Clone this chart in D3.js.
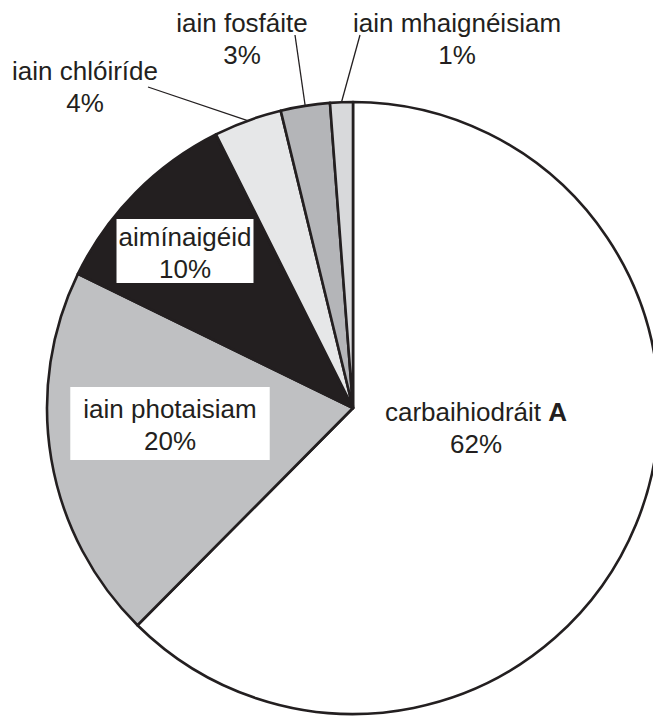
<!DOCTYPE html>
<html>
<head>
<meta charset="utf-8">
<script src="https://cdn.jsdelivr.net/npm/d3@7"></script>
<style>
	body { margin: 0; background: #fff; }
	text { font-family: "Liberation Sans", Arial, sans-serif; fill: #231f20; }
</style>
</head>
<body>
<svg id="chart"></svg>
<script>
// slices, clockwise from 12 o'clock
const names = ["carbaihiodráit", "iain photaisiam", "aimínaigéid", "iain chlóiríde", "iain fosfáite", "iain mhaignéisiam"];
const values = [62.5, 19.8, 10.4, 3.6, 2.6, 1.2];
const pctLabels = ["62%", "20%", "10%", "4%", "3%", "1%"];
const fills = ["#ffffff", "#bfc0c2", "#231f20", "#e6e7e8", "#b4b5b8", "#d8d9db"];

// label layout: inside (boxed or plain) or outside with a leader line
const labelPos = [
	{ x: 476, y: 421, kind: "plain", bold: "A" },
	{ x: 170, y: 418, kind: "box", pad: [13, 7, 4] },
	{ x: 185, y: 246, kind: "box", pad: [2, 3, -1] },
	{ x: 85, y: 80, kind: "out", lx: 148, ly: 87 },
	{ x: 242, y: 32, kind: "out", lx: 295, ly: 35 },
	{ x: 457, y: 32, kind: "out", lx: 360, ly: 35 }
];

const width = 653;
const height = 716;
const cx = 353, cy = 408, radius = 306;
const lineGap = 32;

const svg = d3.select("#chart")
	.attr("width", width)
	.attr("height", height);

const pie = d3.pie().sort(null).value((d) => d)(values);
const arc = d3.arc().innerRadius(0).outerRadius(radius);

const g = svg.append("g").attr("transform", `translate(${cx},${cy})`);

g.selectAll("path")
	.data(pie)
	.join("path")
	.attr("d", arc)
	.attr("fill", (d, i) => fills[i])
	.attr("stroke", "#231f20")
	.attr("stroke-width", 2.6)
	.attr("stroke-linejoin", "round");

// leader lines for the small slices
pie.forEach((d, i) => {
	const p = labelPos[i];
	if (p.kind !== "out") return;
	const a = (d.startAngle + d.endAngle) / 2;
	svg.append("line")
		.attr("x1", p.lx)
		.attr("y1", p.ly)
		.attr("x2", cx + radius * Math.sin(a))
		.attr("y2", cy - radius * Math.cos(a))
		.attr("stroke", "#231f20")
		.attr("stroke-width", 1.3);
});

// labels
names.forEach((name, i) => {
	const p = labelPos[i];
	const lg = svg.append("g");
	const t1 = lg.append("text")
		.attr("x", p.x)
		.attr("y", p.y)
		.attr("text-anchor", "middle")
		.style("font-size", "26px")
		.text(name);
	if (p.bold) {
		t1.append("tspan").text(" ");
		t1.append("tspan").style("font-weight", "bold").text(p.bold);
	}
	lg.append("text")
		.attr("x", p.x)
		.attr("y", p.y + lineGap)
		.attr("text-anchor", "middle")
		.style("font-size", "26px")
		.text(pctLabels[i]);

	if (p.kind === "box") {
		const bb = lg.node().getBBox();
		const [px, pt, pb] = p.pad;
		lg.insert("rect", ":first-child")
			.attr("x", bb.x - px)
			.attr("y", bb.y - pt)
			.attr("width", bb.width + 2 * px)
			.attr("height", bb.height + pt + pb)
			.attr("fill", "#ffffff");
	}
});
</script>
</body>
</html>
